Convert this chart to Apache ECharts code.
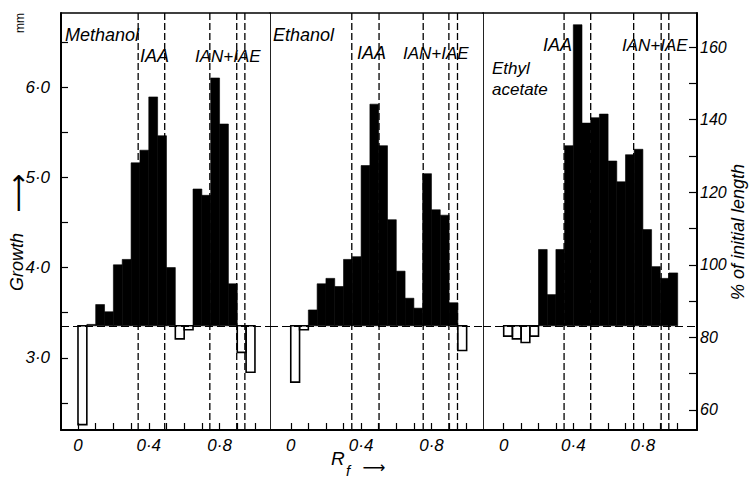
<!DOCTYPE html>
<html><head><meta charset="utf-8">
<script src="https://cdn.jsdelivr.net/npm/echarts@6/dist/echarts.min.js"></script>
<style>html,body{margin:0;padding:0;background:#fff}#c{width:751px;height:480px}</style>
</head><body><div id="c"></div>
<script>
// ---- data ----
const binStarts = [0,0.05,0.1,0.15,0.2,0.25,0.3,0.35,0.4,0.45,0.5,0.55,0.6,0.65,0.7,0.75,0.8,0.85,0.9,0.95];
const binWidth = 0.05;
const methanol     = [2.26,3.37,3.59,3.51,4.03,4.09,5.16,5.30,5.89,5.46,4.00,3.21,3.31,4.87,4.80,6.10,5.59,3.82,3.06,2.84];
const ethanol      = [2.73,3.31,3.53,3.82,3.88,3.79,4.09,4.12,5.13,5.81,5.35,4.53,3.96,3.66,3.55,5.04,4.64,4.58,3.61,3.08];
const ethylAcetate = [3.24,3.21,3.17,3.24,4.20,3.70,4.20,5.35,6.69,5.60,5.66,5.70,5.18,4.95,5.25,5.31,4.42,4.01,3.88,3.94];
const baseline = 3.355;
const refMethanol     = [0.34,0.49,0.745,0.897,0.943];
const refEthanol      = [0.347,0.502,0.753,0.899,0.948];
const refEthylAcetate = [0.347,0.50,0.747,0.905,0.949];
const panelNames = ['Methanol','Ethanol','Ethyl acetate'];
const leftTicks  = [2.5,3,3.5,4,4.5,5,5.5,6,6.5];
const leftLabels = [3,4,5,6];
const rightTicks  = [60,70,80,90,100,110,120,130,140,150,160];
const rightLabels = [60,80,100,120,140,160];
const xTicks  = [0,0.1,0.2,0.3,0.4,0.5,0.6,0.7,0.8,0.9,1.0];
const xLabels = [0,0.4,0.8];

// ---- chart ----
const Y_MIN = 2.2, Y_MAX = 6.82;
const FONT = '"Liberation Sans Narrow","Liberation Sans",sans-serif';
const ARROW_FONT = '"DejaVu Sans",sans-serif';
const dot = v => (+v).toFixed(1).replace('.', '\u00b7');
const panels = [methanol, ethanol, ethylAcetate];
const refs = [refMethanol, refEthanol, refEthylAcetate];
const xRanges = [[-0.096,1.085],[-0.118,1.093],[-0.119,1.111]];
const grids = [
  {left:61, top:13, width:209, height:417},
  {left:270, top:13, width:213, height:417},
  {left:483, top:13, width:214, height:417}
];

const xAxes = [];
xRanges.forEach((r,i)=>{
  xAxes.push({
    type:'value', gridIndex:i, position:'bottom', min:r[0], max:r[1],
    axisLine:{onZero:false, lineStyle:{color:'#000', width:2}},
    axisTick:{show:true, inside:true, length:7, customValues:xTicks, lineStyle:{color:'#000', width:1.2}},
    axisLabel:{show:true, customValues:xLabels, formatter:v=>v===0?'0':dot(v), margin:7,
      color:'#000', fontSize:17, fontStyle:'italic', fontFamily:FONT},
    splitLine:{show:false}
  });
});
xRanges.forEach((r,i)=>{
  xAxes.push({
    type:'value', gridIndex:i, position:'top', min:r[0], max:r[1],
    axisLine:{onZero:false, lineStyle:{color:'#000', width:1.5}},
    axisTick:{show:false}, axisLabel:{show:false}, splitLine:{show:false}
  });
});

const yAxes = [
  {type:'value', gridIndex:0, position:'left', min:Y_MIN, max:Y_MAX,
   axisLine:{onZero:false, lineStyle:{color:'#000', width:2}},
   axisTick:{show:true, inside:true, length:7, customValues:leftTicks, lineStyle:{color:'#000', width:1.2}},
   axisLabel:{show:true, customValues:leftLabels, formatter:dot, margin:11, color:'#000',
     fontSize:17, fontStyle:'italic', fontFamily:FONT},
   splitLine:{show:false}},
  {type:'value', gridIndex:1, position:'left', min:Y_MIN, max:Y_MAX,
   axisLine:{onZero:false, lineStyle:{color:'#222', width:1}},
   axisTick:{show:false}, axisLabel:{show:false}, splitLine:{show:false}},
  {type:'value', gridIndex:2, position:'left', min:Y_MIN, max:Y_MAX,
   axisLine:{onZero:false, lineStyle:{color:'#222', width:1}},
   axisTick:{show:false}, axisLabel:{show:false}, splitLine:{show:false}},
  {type:'value', gridIndex:2, position:'right', min:54.49, max:169.37,
   axisLine:{onZero:false, lineStyle:{color:'#000', width:2}},
   axisTick:{show:true, inside:true, length:8, customValues:rightTicks, lineStyle:{color:'#000', width:1.2}},
   axisLabel:{show:true, customValues:rightLabels, margin:3, color:'#000',
     fontSize:16, fontStyle:'italic', fontFamily:FONT},
   splitLine:{show:false}}
];

function barItem(params, api){
  const x0 = api.value(0), v = api.value(1);
  const p0 = api.coord([x0, baseline]);
  const p1 = api.coord([x0 + binWidth, v]);
  const below = v < baseline;
  return {type:'rect',
    shape:{x:p0[0], y:Math.min(p0[1],p1[1]), width:p1[0]-p0[0], height:Math.abs(p1[1]-p0[1])},
    style:{fill: below ? 'none' : '#000', stroke:'#000', lineWidth: below ? 1.6 : 0.6}};
}
function refItem(params, api){
  const x = api.value(0);
  const a = api.coord([x, Y_MAX]);
  const b = api.coord([x, Y_MIN]);
  return {type:'line', shape:{x1:a[0], y1:a[1], x2:b[0], y2:b[1]},
    style:{stroke:'#000', lineWidth:1.3, lineDash:[7,3]}};
}

const series = [];
panels.forEach((vals,i)=>{
  series.push({
    type:'custom', name:panelNames[i]+' refs', xAxisIndex:i, yAxisIndex:i, z:2,
    renderItem:refItem, encode:{x:0, y:1},
    data:refs[i].map(r=>[r, Y_MIN]),
    markLine:{silent:true, symbol:'none', label:{show:false},
      lineStyle:{color:'#000', type:[8,4], width:1.1},
      data:[{yAxis:baseline}]}
  });
  series.push({
    type:'custom', name:panelNames[i], xAxisIndex:i, yAxisIndex:i, z:3,
    renderItem:barItem, encode:{x:0, y:1},
    data:binStarts.map((b,k)=>[b, vals[k]])
  });
});

function txt(text, x, y, size, opts){
  return Object.assign({type:'text', x:x, y:y, silent:true,
    style:Object.assign({text:text, fill:'#000', fontSize:size, fontStyle:'italic',
      fontFamily:FONT, align:'left', verticalAlign:'middle'}, (opts&&opts.style)||{})},
    (opts&&opts.el)||{});
}

const graphic = [
  txt('Methanol', 65, 35, 18),
  txt('IAA', 140, 56, 18),
  txt('IAN+IAE', 195, 56, 17),
  txt('Ethanol', 273, 35, 18),
  txt('IAA', 357, 53, 18),
  txt('IAN+IAE', 403, 53, 17),
  txt('IAA', 543, 45, 18),
  txt('IAN+IAE', 622, 45, 17),
  txt('Ethyl', 492, 68, 17),
  txt('acetate', 492, 89, 17),
  txt('mm', 20, 23, 12, {style:{align:'center', fontStyle:'normal'}, el:{rotation:Math.PI/2}}),
  txt('Growth', 17, 262, 18, {style:{align:'center'}, el:{rotation:Math.PI/2}}),
  txt('\u27f6', 17, 193, 27, {style:{align:'center', fontStyle:'normal', fontFamily:ARROW_FONT}, el:{rotation:Math.PI/2}}),
  txt('% of initial length', 738, 232, 18, {style:{align:'center'}, el:{rotation:Math.PI/2}}),
  txt('R', 331, 458, 19),
  txt('f', 346, 470, 15),
  txt('\u27f6', 374, 467, 16, {style:{align:'center', fontStyle:'normal', fontFamily:ARROW_FONT}})
];

const chart = echarts.init(document.getElementById('c'), null, {renderer:'svg', width:751, height:480});
chart.setOption({
  backgroundColor:'#fff',
  animation:false,
  grid:grids,
  xAxis:xAxes,
  yAxis:yAxes,
  series:series,
  graphic:graphic
});
</script>
</body></html>
